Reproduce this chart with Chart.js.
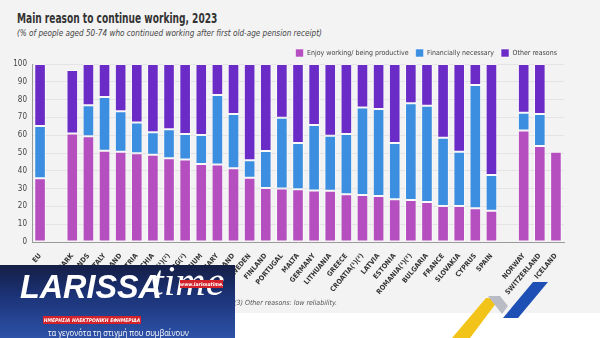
<!DOCTYPE html>
<html lang="en">
<head>
<meta charset="UTF-8">
<title>Main reason to continue working, 2023</title>
<script src="https://cdn.jsdelivr.net/npm/chart.js@4.4.1/dist/chart.umd.min.js"></script>
<style>
  html, body { margin: 0; padding: 0; }
  body { width: 600px; height: 338px; position: relative; overflow: hidden; background: #ffffff;
         font-family: "DejaVu Sans Condensed", "Liberation Sans Narrow", Roboto, sans-serif; }
  #panel { position: absolute; left: 0; top: 0; width: 600px; height: 313px; background: #f3f3f3; }
  #title { position: absolute; left: 17px; top: 10px; font-size: 14px; font-weight: bold; color: #333;
           white-space: nowrap; transform: scaleX(0.72); transform-origin: 0 0; }
  #subtitle { position: absolute; left: 17px; top: 28px; font-size: 9px; font-style: italic; color: #444;
              white-space: nowrap; transform: scaleX(0.9); transform-origin: 0 0; }
  #chartBox { position: absolute; left: 0; top: 42px; width: 600px; height: 271px; }
  #note { position: absolute; left: 234px; top: 299px; font-size: 7px; font-style: italic; color: #555; }
  #logo { position: absolute; left: 0; top: 265px; width: 235px; height: 73px;
          background: linear-gradient(180deg, #151e45 0%, #1b3275 40%, #2d52a8 100%); overflow: hidden; }
  #logo .big { position: absolute; left: 20px; top: 3px; font-size: 33px; font-weight: bold; font-style: italic;
               color: #fff; white-space: nowrap; font-family: "Liberation Sans", Arial, sans-serif;
               transform: scaleX(0.98); transform-origin: 0 0; }
  #logo .time { position: absolute; left: 152px; top: -8px; font-size: 42px; font-style: italic; color: #fff;
                font-family: "Liberation Serif", "DejaVu Serif", serif; }
  #logo .web { position: absolute; left: 180px; top: 15px; width: 43px; height: 8px; background: #d3222a;
               color: #fff; font-size: 5px; font-style: italic; font-weight: bold; text-align: center;
               line-height: 8px; white-space: nowrap; overflow: hidden; }
  #logo .band { position: absolute; left: 43px; top: 51px; width: 98px; height: 8px; background: #d3222a;
                color: #fff; font-size: 5px; font-style: italic; font-weight: bold; text-align: center;
                line-height: 8px; white-space: nowrap; overflow: hidden; }
  #logo .tag { position: absolute; left: 48px; top: 61px; font-size: 9.5px; color: #fff; white-space: nowrap;
               font-family: "Open Sans", sans-serif; transform: scaleX(0.8); transform-origin: 0 0; }
  #mark { position: absolute; left: 440px; top: 278px; }
</style>
</head>
<body>
<div id="panel"></div>
<div id="title">Main reason to continue working, 2023</div>
<div id="subtitle">(% of people aged 50-74 who continued working after first old-age pension receipt)</div>
<div id="chartBox"><canvas id="chart" width="600" height="271"></canvas></div>
<div id="note">(3) Other reasons: low reliability.</div>
<div id="logo">
  <div class="big">LARISSA</div>
  <div class="time">time</div>
  <div class="web">www.larissatime.gr</div>
  <div class="band">ΗΜΕΡΗΣΙΑ ΗΛΕΚΤΡΟΝΙΚΗ ΕΦΗΜΕΡΙΔΑ</div>
  <div class="tag">τα γεγονότα τη στιγμή που συμβαίνουν</div>
</div>
<svg id="mark" width="120" height="60">
  <polygon points="12,60 30,60 60,20 46,20" fill="#f2c318"/>
  <polygon points="48,18 60,18 68,28 62,36" fill="#b9bcc4"/>
  <polygon points="63,40 78,40 108,4 93,4" fill="#1e4fb4"/>
</svg>

<script>
// categories ('' = gap between groups)
var countries = ['EU', '', 'DENMARK', 'NETHERLANDS', 'ITALY', 'IRELAND', 'AUSTRIA', 'CZECHIA',
    'SLOVENIA(¹)(²)', 'LUXEMBOURG(²)', 'BELGIUM', 'HUNGARY', 'POLAND', 'SWEDEN', 'FINLAND',
    'PORTUGAL', 'MALTA', 'GERMANY', 'LITHUANIA', 'GREECE', 'CROATIA(¹)(²)', 'LATVIA', 'ESTONIA',
    'ROMANIA(¹)(²)', 'BULGARIA', 'FRANCE', 'SLOVAKIA', 'CYPRUS', 'SPAIN', '', 'NORWAY',
    'SWITZERLAND', 'ICELAND'];

// series values (%)
var enjoy = [35.8, null, 61.0, 59.4, 51.3, 50.7, 49.8, 49.0, 47.0, 46.3, 43.8, 43.6, 41.4, 36.1, 30.3,
    30.1, 29.6, 29.0, 28.8, 26.8, 26.4, 25.8, 24.0, 23.6, 22.5, 20.2, 20.2, 18.9, 17.6, null, 62.7,
    53.9, 50.7];
var financial = [29.4, null, null, 17.4, 30.2, 22.7, 17.4, 12.6, 16.3, 14.4, 16.3, 39.0, 30.5, 9.8, 20.8,
    39.7, 26.0, 36.7, 30.9, 33.9, 49.1, 48.9, 31.6, 54.3, 54.1, 38.4, 30.5, 69.3, 20.0, null, 9.9,
    18.0, null];
var other = [34.8, null, 35.6, 23.2, 18.5, 26.6, 32.8, 38.4, 36.7, 39.3, 39.9, 17.4, 28.1, 54.1, 48.9,
    30.2, 44.4, 34.3, 40.3, 39.3, 24.5, 25.3, 44.4, 22.1, 23.4, 41.4, 49.3, 11.8, 62.4, null, 27.4,
    28.1, null];

var yTicks = [0, 10, 20, 30, 40, 50, 60, 70, 80, 90, 100];

var FONT = '"DejaVu Sans Condensed", "Liberation Sans Narrow", Roboto, sans-serif';
var PINK = '#b54fbf';
var BLUE = '#3b8ee0';
var PURPLE = '#6a2bc6';

function seg(label, data, color) {
    return {
        label: label, data: data, backgroundColor: color,
        borderColor: 'rgba(255,255,255,0.55)', borderWidth: 1, borderSkipped: false,
        categoryPercentage: 1.0, barPercentage: 0.72
    };
}

new Chart(document.getElementById('chart'), {
    type: 'bar',
    data: {
        labels: countries,
        datasets: [
            seg('Enjoy working/ being productive', enjoy, PINK),
            seg('Financially necessary', financial, BLUE),
            seg('Other reasons', other, PURPLE)
        ]
    },
    options: {
        responsive: false,
        animation: false,
        layout: { padding: { left: 0, right: 36, top: 0, bottom: 0 } },
        plugins: {
            tooltip: { enabled: false },
            legend: {
                position: 'top', align: 'end', maxHeight: 22,
                labels: { boxWidth: 8, boxHeight: 8, padding: 7, color: '#444',
                          font: { family: FONT, size: 7 } }
            }
        },
        scales: {
            x: {
                stacked: true,
                grid: { display: false },
                border: { color: '#9a9a9a' },
                ticks: { autoSkip: false, maxRotation: 50, minRotation: 50, padding: 2, color: '#333',
                         font: { family: FONT, size: 7, weight: 'bold' } },
                afterFit: function (s) { s.height = 71; }
            },
            y: {
                stacked: true, min: 0, max: 100,
                afterBuildTicks: function (s) { s.ticks = yTicks.map(function (v) { return { value: v }; }); },
                grid: { color: '#e4e4e4', drawTicks: false },
                border: { color: '#9a9a9a' },
                ticks: { padding: 5, color: '#444', font: { family: FONT, size: 8 } },
                afterFit: function (s) { s.width = 32; }
            }
        }
    }
});
</script>
</body>
</html>
